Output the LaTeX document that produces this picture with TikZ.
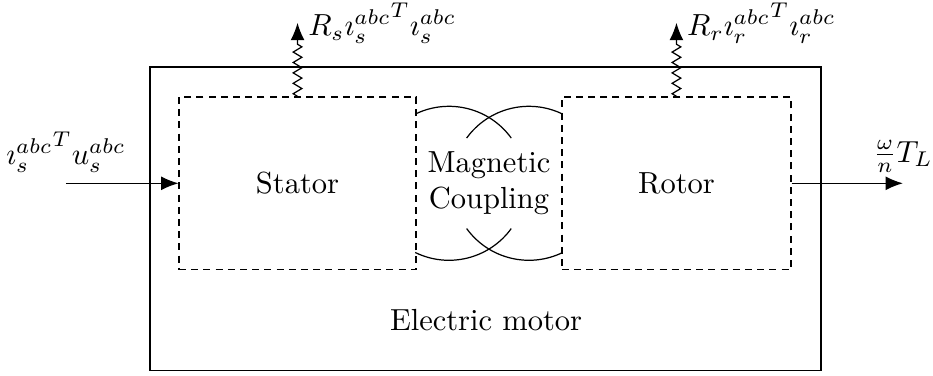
\documentclass[tikz,border=0pt]{standalone}
\usepackage{amsmath}
\usetikzlibrary{arrows.meta,decorations.pathmorphing,positioning}
\tikzset{
  part/.style={draw,dash pattern=on 2.3pt off 1.7pt,minimum height=1.99cm,inner sep=0pt},
  flow/.style={-{Latex[length=2mm,width=1.6mm]}},
  loss/.style={decorate,decoration={zigzag,segment length=1.2mm,amplitude=0.5mm,post length=2.2mm},-{Latex[length=2mm,width=1.6mm]}}
}
\newcommand{\cur}[2]{\imath^{#1}_{#2}}

\begin{document}
\begin{tikzpicture}
\useasboundingbox (0,0) rectangle (10.75,4.33);
\node[draw,minimum width=7.73cm,minimum height=3.5cm] (motor) at (5.594,1.809) {};
\node (mlabel) at (5.6,0.645) {Electric motor};
\node[part,minimum width=2.73cm] (stator) at (3.428,2.218) {Stator};
\node[part,minimum width=2.64cm] (rotor) at (7.794,2.218) {Rotor};
\node[align=center] (coupling) at (5.634,2.218) {Magnetic\\Coupling};
% coupling arcs
\coordinate (cl) at (5.173,2.218); \coordinate (cr) at (6.094,2.218);
\draw (cl) ++(116:0.887) arc[start angle=116,end angle=36,radius=0.887];
\draw (cr) ++(144:0.887) arc[start angle=144,end angle=64,radius=0.887];
\draw (cl) ++(-116:0.887) arc[start angle=-116,end angle=-36,radius=0.887];
\draw (cr) ++(-144:0.887) arc[start angle=-144,end angle=-64,radius=0.887];
% power in and out
\coordinate (pin) at (0.760,2.218); \coordinate (pout) at (10.403,2.218);
\draw[flow] (pin) -- (stator.west); \node[above] (inlabel) at (pin) {${\cur{abc}{s}}^T u^{abc}_{s}$};
\draw[flow] (rotor.east) -- (pout); \node[above] (outlabel) at (pout) {$\frac{\omega}{n}T_L$};
% losses
\coordinate (top) at (0,4.067);
\coordinate (sheat) at (stator.north |- top); \coordinate (rheat) at (rotor.north |- top);
\draw[loss] (stator.north) -- (sheat); \node[right] (slabel) at (sheat) {$R_s{\cur{abc}{s}}^T\cur{abc}{s}$};
\draw[loss] (rotor.north) -- (rheat); \node[right] (rlabel) at (rheat) {$R_r{\cur{abc}{r}}^T\cur{abc}{r}$};
\end{tikzpicture}
\end{document}
